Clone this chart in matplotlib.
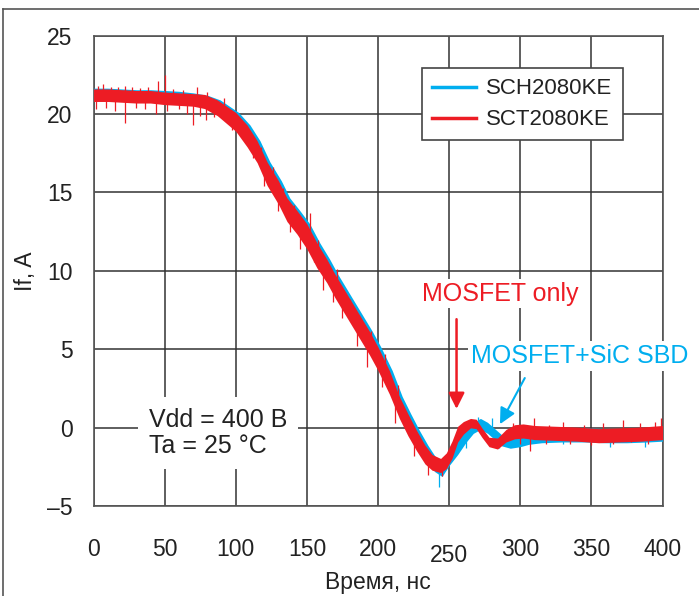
import matplotlib.pyplot as plt
from matplotlib.lines import Line2D
from matplotlib.transforms import ScaledTranslation
import numpy as np

#%% Data
# SCT2080KE (red): time, ns / centre of the noisy trace, A / half width of the band
t_red = [0, 10, 20, 30, 40, 50, 60, 70, 78, 87, 100, 108, 115, 122, 130, 136,
         143, 150, 157, 164, 170, 176, 182, 188, 194, 200, 208, 215, 221, 227,
         233, 238, 244, 248, 252, 256, 260, 265, 269, 273, 278, 284, 290, 296,
         302, 310, 325, 340, 355, 370, 385, 400]
i_red = [21.2, 21.2, 21.15, 21.1, 21.1, 21.0, 20.95, 20.9, 20.8, 20.4, 19.5,
         18.6, 17.6, 16.2, 15.0, 13.9, 13.1, 12.2, 11.0, 10.0, 9.0, 8.1, 7.2,
         6.3, 5.4, 4.4, 2.9, 1.3, 0.2, -0.8, -1.7, -2.2, -2.4, -2.1, -1.4, -0.4,
         0.0, 0.3, 0.25, -0.3, -0.9, -1.0, -0.5, -0.25, -0.2, -0.3, -0.35, -0.4,
         -0.5, -0.45, -0.4, -0.3]
w_red = [0.4, 0.4, 0.4, 0.4, 0.4, 0.4, 0.4, 0.4, 0.45, 0.5, 0.6, 0.7, 0.7, 0.75,
         0.75, 0.75, 0.75, 0.8, 0.8, 0.75, 0.75, 0.75, 0.75, 0.75, 0.75, 0.75,
         0.75, 0.7, 0.7, 0.65, 0.6, 0.5, 0.45, 0.5, 0.55, 0.5, 0.4, 0.3, 0.3,
         0.3, 0.3, 0.35, 0.4, 0.45, 0.45, 0.45, 0.45, 0.45, 0.45, 0.45, 0.45, 0.45]

# SCH2080KE (blue)
t_blue = [0, 10, 20, 30, 40, 50, 60, 70, 80, 89, 102, 110, 117, 124, 132, 138,
          145, 152, 159, 166, 172, 178, 184, 190, 196, 202, 210, 217, 223, 229,
          235, 240, 245, 250, 256, 262, 267, 272, 277, 282, 287, 293, 300, 306,
          315, 330, 345, 360, 375, 390, 400]
i_blue = [21.25, 21.25, 21.2, 21.15, 21.15, 21.1, 21.05, 20.95, 20.8, 20.4,
          19.5, 18.6, 17.6, 16.2, 15.0, 13.9, 13.1, 12.2, 11.0, 10.0, 9.0, 8.1,
          7.2, 6.3, 5.4, 4.4, 2.9, 1.3, 0.2, -0.8, -1.7, -2.3, -2.6, -1.9, -1.2,
          -0.5, 0.0, 0.25, 0.0, -0.4, -0.8, -0.9, -0.75, -0.6, -0.5, -0.45,
          -0.45, -0.5, -0.5, -0.45, -0.4]
w_blue = [0.4] * 9 + [0.5, 0.6, 0.7, 0.7, 0.75, 0.75, 0.75, 0.75, 0.8, 0.8,
          0.75, 0.75, 0.75, 0.75, 0.75, 0.75, 0.75, 0.75, 0.7, 0.7, 0.65, 0.6,
          0.5, 0.5, 0.5, 0.5, 0.4, 0.35, 0.35, 0.35, 0.35, 0.35, 0.4, 0.45,
          0.45, 0.45, 0.45, 0.45, 0.45, 0.45, 0.45, 0.45]

# single spikes of the noise: time, tip value
spk_red_t = [3, 7, 12, 17, 22, 27, 33, 38, 45, 50, 56, 63, 73, 80,
             2, 9, 15, 22, 30, 36, 44, 52, 60, 66, 70, 75, 79, 85,
             92, 105, 118, 126, 133, 141, 152, 158, 171, 180, 195, 205, 214,
             97, 112, 120, 130, 138, 145, 155, 161, 168, 175, 185, 192, 203,
             212, 225, 235, 245,
             295, 310, 320, 330, 345, 358, 372, 384, 395, 399,
             300, 307, 318, 335, 350, 365, 378, 390]
spk_red_v = [21.8, 21.9, 21.7, 21.75, 21.8, 21.7, 21.65, 21.7, 22.1, 22.5,
             21.6, 21.55, 21.7, 21.4,
             20.3, 20.4, 20.2, 19.4, 20.4, 20.3, 20.0, 20.2, 20.3, 20.0, 19.3,
             19.9, 19.6, 19.8,
             21.0, 19.4, 17.9, 16.6, 15.3, 14.2, 13.7, 12.0, 10.1, 8.2, 6.2,
             4.7, 2.7,
             19.0, 17.2, 15.4, 13.8, 12.5, 11.4, 10.6, 8.8, 8.0, 7.0, 5.2, 3.9,
             2.6, 0.3, -1.8, -3.0, -3.1,
             0.3, 0.6, 0.2, 0.4, 0.2, 0.3, 0.5, 0.3, 0.4, 0.6,
             -1.0, -1.5, -1.0, -1.0, -1.1, -1.0, -0.9, -1.0]
spk_blue_t = [243, 262, 270, 280, 285, 330, 363, 388]
spk_blue_v = [-3.75, -1.3, 0.7, 0.6, -1.3, -1.0, -1.2, -1.2]

red = '#ed1c24'
blue = '#00aeef'
grid_c = '#333333'

plt.rcParams['font.family'] = ['Liberation Sans', 'DejaVu Sans']

fig = plt.figure(figsize=(6.99, 5.96), dpi=100)
ax = fig.add_axes([0.1338, 0.1505, 0.814, 0.7898])

#%% traces
for t, c, w, col, st, sv in [(t_blue, i_blue, w_blue, blue, spk_blue_t, spk_blue_v),
                             (t_red, i_red, w_red, red, spk_red_t, spk_red_v)]:
    t = np.asarray(t, float)
    c = np.asarray(c, float)
    w = np.asarray(w, float)
    ax.fill_between(t, c - w, c + w, color=col, lw=0, zorder=3)
    ax.plot(t, c, color=col, lw=1.5, zorder=3)
    ax.vlines(st, np.interp(st, t, c), sv, color=col, lw=0.9, zorder=3)

#%% axes
ax.set_xlim(0, 400)
ax.set_ylim(-5, 25)
ax.set_xticks(np.arange(0, 401, 50))
ax.set_yticks(np.arange(-5, 26, 5))
ax.set_yticklabels(['\u20135', '0', '5', '10', '15', '20', '25'])
ax.grid(True, color=grid_c, lw=1.1, zorder=1)
ax.tick_params(length=0, labelsize=16.5, labelcolor='#222222')
ax.tick_params(axis='x', pad=23)
ax.tick_params(axis='y', pad=15)
for s in ax.spines.values():
    s.set_color('#555555')
    s.set_linewidth(1.2)
ax.set_xlabel('Время, нс', fontsize=16.5, color='#222222', labelpad=3)
ax.set_ylabel('If, A', fontsize=16.5, color='#222222', labelpad=7)

# "250" sits a bit lower in the original
for lbl in ax.get_xticklabels():
    if lbl.get_text() == '250':
        lbl.set_transform(lbl.get_transform()
                          + ScaledTranslation(0, -4 / 72, fig.dpi_scale_trans))

#%% legend
handles = [Line2D([], [], color=blue, lw=2.5), Line2D([], [], color=red, lw=2.5)]
leg = ax.legend(handles, ['SCH2080KE', 'SCT2080KE'], loc='upper right',
                bbox_to_anchor=(0.930, 0.9305), borderaxespad=0, fontsize=16,
                fancybox=False, framealpha=1, edgecolor='#444444',
                handlelength=2.0, handletextpad=0.45, labelspacing=0.45,
                borderpad=0.45)
leg.get_frame().set_linewidth(1.2)
for txt in leg.get_texts():
    txt.set_color('#222222')
leg.set_zorder(5)

#%% annotations
ax.text(39, -0.33, 'Vdd = 400 B\nTa = 25 °C', fontsize=18, color='#222222',
        ha='left', va='center', linespacing=1.15, zorder=4,
        bbox=dict(facecolor='white', edgecolor='none', pad=8))
ax.text(285.7, 8.55, 'MOSFET only', fontsize=18, color=red, ha='center',
        va='center', zorder=4,
        bbox=dict(facecolor='white', edgecolor='none', pad=2))
ax.annotate('', xy=(255.2, 1.03), xytext=(255.2, 7.1),
            arrowprops=dict(arrowstyle='-|>', color=red, lw=1.8,
                            mutation_scale=24), zorder=4)
ax.text(265.4, 4.57, 'MOSFET+SiC SBD', fontsize=18, color=blue, ha='left',
        va='center', zorder=6, clip_on=False,
        bbox=dict(facecolor='white', edgecolor='none', pad=2))
ax.annotate('', xy=(284.8, 0.08), xytext=(304.1, 3.33),
            arrowprops=dict(arrowstyle='-|>', color=blue, lw=1.5,
                            mutation_scale=24), zorder=4)

#%% outer frame
fig.add_artist(Line2D([3 / 699, 3 / 699], [0, 1 - 9 / 596],
                      transform=fig.transFigure, color='#555555', lw=1.2))
fig.add_artist(Line2D([3 / 699, 1], [1 - 9 / 596, 1 - 9 / 596],
                      transform=fig.transFigure, color='#555555', lw=1.2))

plt.savefig('out.png', dpi=100)
